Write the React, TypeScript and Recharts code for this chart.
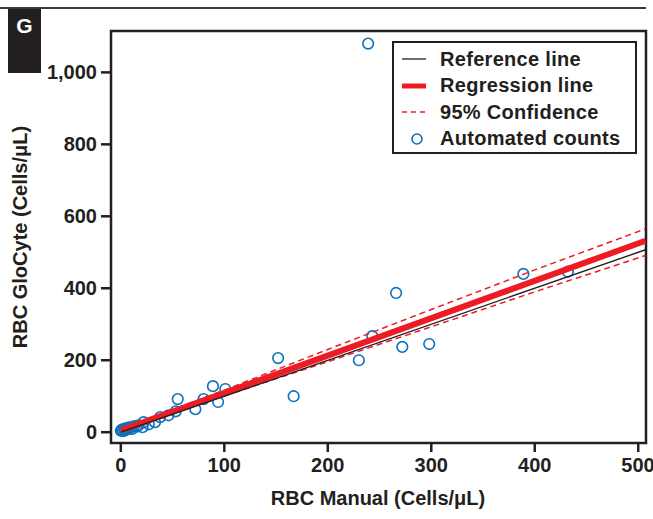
import React from "react";
import {
  ScatterChart,
  Scatter,
  XAxis,
  YAxis,
  ReferenceArea,
  Legend,
  Label,
} from "recharts";

// automated counts (manual x, GloCyte y), cells/uL
const manualCounts = [
  0, 1, 2, 3, 4, 5, 6, 7, 8, 10, 11, 13, 15, 17,
  21, 22, 27, 33, 38, 46, 53, 55, 72, 80, 89, 94, 101,
  152, 167, 230, 239, 243, 266, 272, 298, 389, 432,
];
const glocyteCounts = [
  4, 7, 3, 9, 5, 11, 8, 13, 10, 14, 9, 17, 15, 19,
  14, 28, 22, 28, 42, 47, 58, 92, 64, 92, 128, 84, 120,
  206, 100, 200, 1080, 267, 387, 237, 245, 440, 446,
];

const refX = [0, 507];
const refY = [0, 507];

const regX = [0, 507];
const regY = [5, 532];

const ciX = [0, 100, 200, 300, 400, 507];
const ciUpper = [9, 117, 230, 341, 451, 565];
const ciLower = [2, 101, 196, 293, 390, 491];

const xTicks = [0, 100, 200, 300, 400, 500];
const yTicks = [0, 200, 400, 600, 800, 1000];

const legendItems = [
  { label: "Reference line", kind: "ref" },
  { label: "Regression line", kind: "reg" },
  { label: "95% Confidence", kind: "ci" },
  { label: "Automated counts", kind: "pt" },
];

const INK = "#231f20";
const RED = "#ed1c24";
const BLUE = "#0b72bd";
const FONT = "'Liberation Sans', Arial, Helvetica, sans-serif";

const toPoints = (xs: number[], ys: number[]) => xs.map((x, i) => ({ x, y: ys[i] }));

const points = toPoints(manualCounts, glocyteCounts);
const refData = toPoints(refX, refY);
const regData = toPoints(regX, regY);
const upperData = toPoints(ciX, ciUpper);
const lowerData = toPoints(ciX, ciLower);

const noDot = () => <g />;

const Circle = (props: any) => (
  <circle cx={props.cx} cy={props.cy} r={5.3} fill="none" stroke={BLUE} strokeWidth={1.6} />
);

function LegendBox() {
  return (
    <div
      style={{
        width: 241,
        height: 109,
        border: `2.5px solid ${INK}`,
        background: "#fff",
        fontFamily: FONT,
        fontWeight: 700,
        fontSize: 20,
        color: INK,
        boxSizing: "content-box",
      }}
    >
      {legendItems.map((it, i) => (
        <div key={i} style={{ display: "flex", alignItems: "center", height: 26.5, marginTop: i === 0 ? 3 : 0 }}>
          <svg width={46} height={20} style={{ flex: "none" }}>
            {it.kind === "ref" && <line x1={8} x2={32} y1={10} y2={10} stroke={INK} strokeWidth={1.3} />}
            {it.kind === "reg" && <line x1={8} x2={32} y1={10} y2={10} stroke={RED} strokeWidth={5} />}
            {it.kind === "ci" && (
              <line x1={8} x2={32} y1={10} y2={10} stroke={RED} strokeWidth={1.3} strokeDasharray="5 4" />
            )}
            {it.kind === "pt" && <circle cx={23} cy={10} r={5} fill="none" stroke={BLUE} strokeWidth={1.6} />}
          </svg>
          <span style={{ letterSpacing: 0.3 }}>{it.label}</span>
        </div>
      ))}
    </div>
  );
}

export default function App() {
  return (
    <div style={{ position: "absolute", left: 0, top: 0, width: 653, height: 519, background: "#fff" }}>
      <div style={{ position: "absolute", left: 0, top: 7, width: 646, height: 2, background: "#3a3a3a" }} />
      <div
        style={{
          position: "absolute",
          left: 8,
          top: 9,
          width: 33,
          height: 64,
          background: INK,
          color: "#fff",
          fontFamily: FONT,
          fontWeight: 700,
          fontSize: 21,
          textAlign: "center",
          lineHeight: "34px",
        }}
      >
        G
      </div>
      <ScatterChart
        width={653}
        height={519}
        margin={{ top: 31, right: 7, bottom: 0, left: 0 }}
        style={{ position: "absolute", left: 0, top: 0 }}
      >
        <XAxis
          type="number"
          dataKey="x"
          domain={[-9.5, 507.5]}
          ticks={xTicks}
          allowDataOverflow
          height={76}
          axisLine={false}
          tickSize={9}
          tickMargin={6}
          tickLine={{ stroke: INK, strokeWidth: 2.5 }}
          tick={{ fill: INK, fontSize: 20, fontWeight: 700, fontFamily: FONT }}
        >
          <Label
            content={() => (
              <text
                x={378}
                y={505}
                textAnchor="middle"
                fill={INK}
                fontSize={20}
                fontWeight={700}
                fontFamily={FONT}
              >
                RBC Manual (Cells/μL)
              </text>
            )}
          />
        </XAxis>
        <YAxis
          type="number"
          dataKey="y"
          domain={[-30, 1115]}
          ticks={yTicks}
          allowDataOverflow
          width={111}
          axisLine={false}
          tickSize={10}
          tickMargin={4}
          tickLine={{ stroke: INK, strokeWidth: 2.5 }}
          tickFormatter={(v: number) => v.toLocaleString("en-US")}
          tick={{ fill: INK, fontSize: 20, fontWeight: 700, fontFamily: FONT }}
        >
          <Label
            content={() => (
              <text
                x={27}
                y={237}
                transform="rotate(-90 27 237)"
                textAnchor="middle"
                fill={INK}
                fontSize={20}
                fontWeight={700}
                fontFamily={FONT}
              >
                RBC GloCyte (Cells/μL)
              </text>
            )}
          />
        </YAxis>

        <Scatter name="Automated counts" data={points} shape={Circle} isAnimationActive={false} />
        <Scatter
          name="95% upper"
          data={upperData}
          shape={noDot}
          fill="none"
          line={{ stroke: RED, strokeWidth: 1.5, strokeDasharray: "6 4" }}
          isAnimationActive={false}
        />
        <Scatter
          name="95% lower"
          data={lowerData}
          shape={noDot}
          fill="none"
          line={{ stroke: RED, strokeWidth: 1.5, strokeDasharray: "6 4" }}
          isAnimationActive={false}
        />
        <Scatter
          name="Regression line"
          data={regData}
          shape={noDot}
          fill="none"
          line={{ stroke: RED, strokeWidth: 6 }}
          isAnimationActive={false}
        />
        <Scatter
          name="Reference line"
          data={refData}
          shape={noDot}
          fill="none"
          line={{ stroke: INK, strokeWidth: 1.4 }}
          isAnimationActive={false}
        />

        <ReferenceArea
          x1={-9.5}
          x2={507.5}
          y1={-30}
          y2={1115}
          fill="none"
          stroke={INK}
          strokeWidth={2.5}
          ifOverflow="visible"
        />
        <Legend
          layout="vertical"
          align="center"
          verticalAlign="middle"
          wrapperStyle={{ top: 41, left: 392, width: "auto" }}
          content={() => <LegendBox />}
        />
      </ScatterChart>
    </div>
  );
}
